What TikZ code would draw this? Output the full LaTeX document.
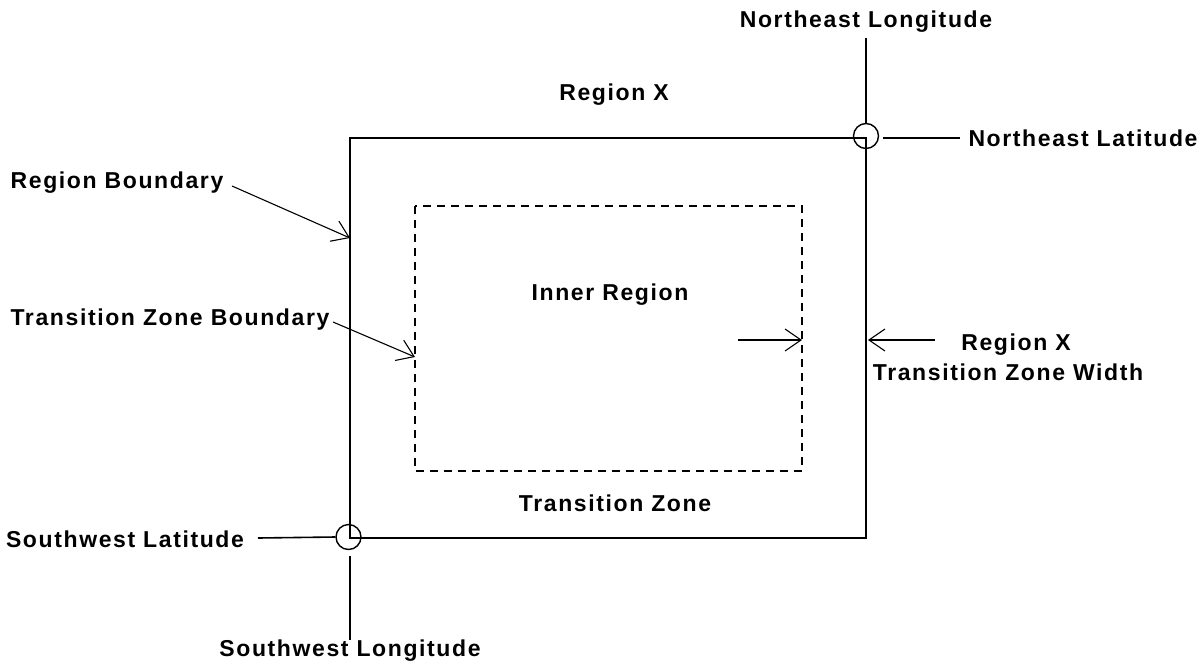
\documentclass[tikz,border=0pt]{standalone}
\usepackage{fontspec}
\setmainfont{Liberation Sans}[LetterSpace=7]
\usetikzlibrary{arrows.meta}
\tikzset{
  lbl/.style={inner sep=0pt, font=\fontsize{23}{27}\selectfont\bfseries},
  solidline/.style={line width=1.6pt},
  zone/.style={line width=1.6pt, dash pattern=on 8pt off 6pt},
  ptr/.style={line width=1.1pt, -{Straight Barb[length=16pt,width=22pt,line width=1.1pt]}},
  cornermark/.style={circle, draw, line width=1.4pt, minimum size=25pt, inner sep=0pt}
}
\begin{document}
\begin{tikzpicture}[x=1pt,y=-1pt]
\useasboundingbox (0,0) rectangle (1202,670);
% texts
\node[lbl] (nelon) at (866,22) {Northeast Longitude};
\node[lbl] (rx) at (614,95) {Region X};
\node[lbl] (nelat) at (1083,138) {Northeast Latitude};
\node[lbl] (rb) at (117,183) {Region Boundary};
\node[lbl] (inner) at (610,295) {Inner Region};
\node[lbl] (tzb) at (170,320) {Transition Zone Boundary};
\node[lbl] (rx2) at (1016,345) {Region X};
\node[lbl] (tzw) at (1008,372) {Transition Zone Width};
\node[lbl] (tz) at (615,503) {Transition Zone};
\node[lbl] (swlat) at (125,539) {Southwest Latitude};
\node[lbl] (swlon) at (350,651) {Southwest Longitude};
% region corners
\coordinate (sw) at (350,538);
\coordinate (ne) at (866,138);
\coordinate (nw) at (350,138);
\coordinate (se) at (866,538);
\draw[solidline] (sw) -- (nw) -- (ne) -- (se) -- cycle;
% transition zone boundary
\coordinate (tnw) at (415,206);
\coordinate (tse) at (802,471);
\draw[zone] (tnw) rectangle (tse);
% corner circles
\node[cornermark] (nec) at (866,136) {};
\node[cornermark] (swc) at (348.5,537) {};
% longitude / latitude lines
\coordinate (nelontop) at (866,38);
\draw[solidline] (nelontop) -- (nec.north);
\coordinate (nelatA) at (883,138);
\coordinate (nelatB) at (960,138);
\draw[solidline] (nelatA) -- (nelatB);
\coordinate (swlatA) at (258,538);
\draw[solidline] (swlatA) -- (swc.west);
\coordinate (swlonA) at (350,556);
\coordinate (swlonB) at (350,640);
\draw[solidline] (swlonA) -- (swlonB);
% arrows
\coordinate (rbA) at (232,186);
\coordinate (rbB) at (350,238);
\draw[ptr] (rbA) -- (rbB);
\coordinate (tzbA) at (333,322);
\coordinate (tzbB) at (415,357);
\draw[ptr] (tzbA) -- (tzbB);
\coordinate (inA) at (738,340);
\coordinate (inB) at (802,340);
\draw[ptr] (inA) -- (inB);
\coordinate (outA) at (935,340);
\coordinate (outB) at (868,340);
\draw[ptr] (outA) -- (outB);
\end{tikzpicture}
\end{document}
